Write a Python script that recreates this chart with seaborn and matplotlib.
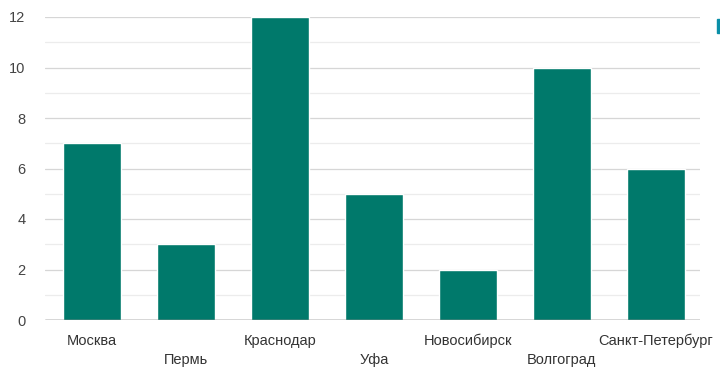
import matplotlib
matplotlib.use('Agg')
import matplotlib.pyplot as plt
import seaborn as sns
import pandas as pd
from matplotlib.patches import Rectangle

cities = ['Москва', 'Пермь', 'Краснодар', 'Уфа', 'Новосибирск', 'Волгоград', 'Санкт-Петербург']
values = [7, 3, 12, 5, 2, 10, 6]
y_ticks = [0, 2, 4, 6, 8, 10, 12]
minor_ticks = [1, 3, 5, 7, 9, 11]

sns.set_style('white')
plt.rcParams['font.family'] = ['Liberation Sans', 'DejaVu Sans']

df = pd.DataFrame({'city': cities, 'value': values})

fig = plt.figure(figsize=(7.2, 3.71), dpi=100)
ax = fig.add_axes([45 / 720, 1 - 320 / 371, 655 / 720, 303 / 371])

# сетка под столбцами
for t in minor_ticks:
    ax.axhline(t, color='#ececec', lw=0.9, zorder=0)
for t in y_ticks[1:]:
    ax.axhline(t, color='#d6d6d6', lw=0.9, zorder=0)

sns.barplot(data=df, x='city', y='value', color='#00796b', width=0.617,
            saturation=1, ax=ax, zorder=2)

ax.axhline(0, color='#333333', lw=1.0, zorder=3)
ax.set_xlim(-0.5, 6.47)
ax.set_ylim(0, 12)
ax.set_yticks(y_ticks)
ax.set_yticklabels([str(t) for t in y_ticks], color='#444444', fontsize=10.5)
ax.set_xticks(range(len(cities)))
labels = [c if i % 2 == 0 else '\n' + c for i, c in enumerate(cities)]
ax.set_xticklabels(labels, color='#333333', fontsize=10.5, linespacing=1.5)
ax.tick_params(axis='y', length=0, pad=14)
ax.tick_params(axis='x', length=0, pad=10)
ax.set_xlabel('')
ax.set_ylabel('')
for s in ax.spines.values():
    s.set_visible(False)
for lbl in ax.get_xticklabels():
    lbl.set_fontstretch('expanded')

# кусочек легенды справа сверху
fig.patches.append(Rectangle((717 / 720, 1 - 33 / 371), 4 / 720, 14 / 371,
                             transform=fig.transFigure, color='#0a8fa8', zorder=5))

fig.savefig('out.png', dpi=100)
